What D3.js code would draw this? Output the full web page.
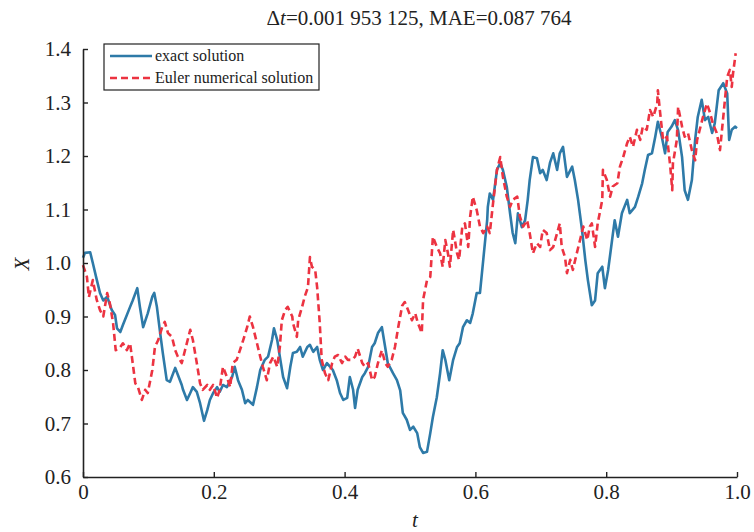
<!DOCTYPE html>
<html>
<head>
<meta charset="utf-8">
<script src="https://cdn.jsdelivr.net/npm/d3@7"></script>
<style>
body { margin: 0; background: #fff; }
text { font-family: "Liberation Serif", "Times New Roman", serif; }
</style>
</head>
<body>
<svg class="chart" width="754" height="532"></svg>
<script>
// exact solution
var exactT = [0, 0.003, 0.011, 0.015, 0.020, 0.026, 0.031, 0.037, 0.044, 0.049, 0.052, 0.057, 0.061, 0.072, 0.076, 0.083, 0.087, 0.092, 0.099, 0.106, 0.109, 0.113, 0.118, 0.122, 0.128, 0.133, 0.141, 0.145, 0.151, 0.153, 0.159, 0.164, 0.168, 0.174, 0.179, 0.185, 0.190, 0.194, 0.199, 0.205, 0.209, 0.214, 0.220, 0.228, 0.232, 0.237, 0.243, 0.248, 0.252, 0.260, 0.266, 0.271, 0.278, 0.283, 0.289, 0.292, 0.297, 0.301, 0.306, 0.312, 0.317, 0.321, 0.327, 0.332, 0.336, 0.343, 0.347, 0.352, 0.358, 0.362, 0.367, 0.373, 0.378, 0.382, 0.388, 0.393, 0.398, 0.404, 0.408, 0.413, 0.416, 0.420, 0.427, 0.431, 0.436, 0.442, 0.446, 0.451, 0.457, 0.462, 0.466, 0.474, 0.480, 0.485, 0.489, 0.495, 0.500, 0.505, 0.511, 0.515, 0.520, 0.526, 0.531, 0.535, 0.541, 0.546, 0.550, 0.554, 0.560, 0.566, 0.572, 0.576, 0.581, 0.587, 0.592, 0.596, 0.602, 0.607, 0.612, 0.618, 0.619, 0.622, 0.627, 0.633, 0.638, 0.642, 0.648, 0.653, 0.657, 0.661, 0.665, 0.671, 0.676, 0.680, 0.683, 0.688, 0.694, 0.699, 0.703, 0.709, 0.714, 0.719, 0.725, 0.729, 0.734, 0.740, 0.748, 0.752, 0.757, 0.763, 0.768, 0.772, 0.778, 0.783, 0.787, 0.794, 0.798, 0.803, 0.809, 0.813, 0.818, 0.824, 0.832, 0.836, 0.844, 0.849, 0.855, 0.859, 0.864, 0.870, 0.875, 0.879, 0.885, 0.890, 0.894, 0.900, 0.905, 0.910, 0.916, 0.920, 0.925, 0.931, 0.936, 0.940, 0.946, 0.951, 0.956, 0.962, 0.966, 0.972, 0.979, 0.985, 0.988, 0.992, 0.997, 1.0];
var exactX = [1.010, 1.019, 1.020, 1.000, 0.974, 0.944, 0.930, 0.937, 0.912, 0.903, 0.878, 0.871, 0.884, 0.918, 0.930, 0.953, 0.918, 0.880, 0.906, 0.937, 0.944, 0.918, 0.869, 0.832, 0.781, 0.778, 0.804, 0.791, 0.772, 0.763, 0.744, 0.757, 0.768, 0.759, 0.738, 0.705, 0.725, 0.744, 0.757, 0.768, 0.759, 0.772, 0.768, 0.787, 0.806, 0.781, 0.763, 0.738, 0.744, 0.735, 0.768, 0.800, 0.819, 0.825, 0.856, 0.878, 0.856, 0.825, 0.787, 0.766, 0.806, 0.832, 0.834, 0.843, 0.825, 0.843, 0.847, 0.834, 0.843, 0.819, 0.800, 0.813, 0.806, 0.800, 0.781, 0.757, 0.744, 0.748, 0.787, 0.763, 0.729, 0.763, 0.787, 0.794, 0.806, 0.843, 0.850, 0.869, 0.880, 0.843, 0.813, 0.794, 0.781, 0.762, 0.720, 0.707, 0.688, 0.694, 0.682, 0.656, 0.645, 0.647, 0.682, 0.712, 0.749, 0.794, 0.837, 0.819, 0.781, 0.819, 0.843, 0.850, 0.880, 0.893, 0.888, 0.906, 0.944, 0.944, 1.006, 1.080, 1.105, 1.130, 1.118, 1.174, 1.187, 1.174, 1.142, 1.093, 1.056, 1.037, 1.093, 1.067, 1.080, 1.118, 1.155, 1.198, 1.196, 1.168, 1.174, 1.155, 1.187, 1.205, 1.174, 1.205, 1.217, 1.161, 1.180, 1.155, 1.118, 1.062, 1.006, 0.968, 0.921, 0.930, 0.981, 0.993, 0.953, 0.987, 1.043, 1.080, 1.049, 1.093, 1.118, 1.093, 1.105, 1.124, 1.149, 1.174, 1.202, 1.205, 1.236, 1.264, 1.236, 1.205, 1.245, 1.255, 1.267, 1.248, 1.198, 1.136, 1.118, 1.155, 1.230, 1.273, 1.305, 1.267, 1.273, 1.243, 1.261, 1.323, 1.336, 1.317, 1.230, 1.249, 1.255, 1.252];

// Euler numerical solution
var eulerT = [0, 0.006, 0.009, 0.015, 0.021, 0.026, 0.031, 0.037, 0.041, 0.046, 0.050, 0.057, 0.061, 0.067, 0.072, 0.076, 0.080, 0.084, 0.090, 0.095, 0.099, 0.106, 0.110, 0.115, 0.121, 0.125, 0.130, 0.136, 0.141, 0.145, 0.151, 0.156, 0.164, 0.168, 0.174, 0.179, 0.183, 0.190, 0.194, 0.199, 0.205, 0.209, 0.214, 0.220, 0.225, 0.229, 0.235, 0.240, 0.245, 0.251, 0.255, 0.260, 0.266, 0.271, 0.275, 0.281, 0.286, 0.291, 0.297, 0.301, 0.304, 0.309, 0.313, 0.320, 0.321, 0.327, 0.329, 0.335, 0.339, 0.344, 0.347, 0.350, 0.355, 0.358, 0.362, 0.365, 0.370, 0.375, 0.381, 0.385, 0.390, 0.396, 0.401, 0.405, 0.411, 0.416, 0.420, 0.427, 0.431, 0.436, 0.442, 0.446, 0.451, 0.457, 0.462, 0.466, 0.472, 0.477, 0.482, 0.488, 0.492, 0.497, 0.503, 0.508, 0.512, 0.518, 0.520, 0.526, 0.531, 0.535, 0.541, 0.546, 0.550, 0.554, 0.558, 0.561, 0.566, 0.572, 0.575, 0.580, 0.584, 0.589, 0.592, 0.596, 0.602, 0.607, 0.612, 0.618, 0.622, 0.627, 0.633, 0.638, 0.642, 0.648, 0.653, 0.657, 0.664, 0.668, 0.673, 0.679, 0.683, 0.688, 0.694, 0.699, 0.703, 0.709, 0.714, 0.719, 0.725, 0.729, 0.732, 0.737, 0.740, 0.745, 0.749, 0.755, 0.760, 0.765, 0.771, 0.775, 0.778, 0.783, 0.787, 0.794, 0.795, 0.801, 0.806, 0.810, 0.817, 0.821, 0.826, 0.832, 0.836, 0.841, 0.847, 0.852, 0.856, 0.862, 0.867, 0.872, 0.878, 0.879, 0.882, 0.887, 0.893, 0.898, 0.901, 0.902, 0.908, 0.910, 0.916, 0.920, 0.925, 0.931, 0.936, 0.939, 0.943, 0.948, 0.954, 0.959, 0.963, 0.969, 0.974, 0.979, 0.985, 0.989, 0.992, 0.994, 0.998];
var eulerX = [0.996, 0.974, 0.936, 0.968, 0.931, 0.912, 0.900, 0.944, 0.925, 0.888, 0.837, 0.843, 0.850, 0.837, 0.850, 0.813, 0.775, 0.768, 0.744, 0.763, 0.757, 0.800, 0.843, 0.856, 0.880, 0.890, 0.869, 0.862, 0.837, 0.825, 0.813, 0.837, 0.875, 0.856, 0.813, 0.775, 0.763, 0.772, 0.763, 0.772, 0.748, 0.763, 0.806, 0.787, 0.768, 0.813, 0.819, 0.837, 0.856, 0.880, 0.900, 0.880, 0.850, 0.825, 0.806, 0.781, 0.813, 0.825, 0.806, 0.843, 0.893, 0.912, 0.918, 0.900, 0.888, 0.862, 0.893, 0.918, 0.937, 0.955, 1.011, 0.993, 0.987, 0.955, 0.888, 0.819, 0.794, 0.781, 0.813, 0.825, 0.828, 0.813, 0.825, 0.819, 0.819, 0.825, 0.840, 0.813, 0.806, 0.813, 0.781, 0.787, 0.813, 0.837, 0.813, 0.806, 0.819, 0.843, 0.880, 0.920, 0.927, 0.912, 0.893, 0.906, 0.888, 0.869, 0.931, 0.968, 0.974, 1.049, 1.030, 1.018, 0.993, 1.043, 1.018, 0.993, 1.062, 1.018, 1.006, 1.068, 1.074, 1.030, 1.087, 1.124, 1.099, 1.068, 1.056, 1.068, 1.056, 1.112, 1.174, 1.198, 1.161, 1.124, 1.105, 1.118, 1.124, 1.087, 1.068, 1.080, 1.056, 1.018, 1.037, 1.030, 1.062, 1.056, 1.024, 1.030, 1.056, 1.074, 1.030, 1.011, 0.981, 1.006, 0.987, 1.018, 1.043, 1.068, 1.043, 1.068, 1.074, 1.030, 1.074, 1.118, 1.174, 1.155, 1.124, 1.143, 1.149, 1.180, 1.198, 1.224, 1.236, 1.217, 1.249, 1.230, 1.255, 1.249, 1.286, 1.273, 1.298, 1.323, 1.286, 1.230, 1.236, 1.180, 1.136, 1.186, 1.230, 1.292, 1.255, 1.236, 1.243, 1.211, 1.192, 1.230, 1.249, 1.273, 1.298, 1.280, 1.261, 1.243, 1.211, 1.273, 1.348, 1.361, 1.329, 1.355, 1.392];

var xTicks = [0, 0.2, 0.4, 0.6, 0.8, 1.0];
var xTickLabels = ["0", "0.2", "0.4", "0.6", "0.8", "1.0"];
var yTicks = [0.6, 0.7, 0.8, 0.9, 1.0, 1.1, 1.2, 1.3, 1.4];
var seriesNames = ["exact solution", "Euler numerical solution"];
var seriesColors = ["#2e7aa8", "#ec3341"];

var plotLeft = 83, plotRight = 737, plotTop = 49, plotBottom = 477;

var chart = d3.select(".chart");

var x = d3.scaleLinear().domain([0, 1]).range([plotLeft, plotRight]);
var y = d3.scaleLinear().domain([0.6, 1.4]).range([plotBottom, plotTop]);

// title
chart.append("text")
  .attr("x", 419).attr("y", 25)
  .attr("text-anchor", "middle")
  .style("font-size", "21px")
  .style("fill", "#222")
  .html('\u0394<tspan font-style="italic">t</tspan>=0.001 953 125, MAE=0.087 764');

// lines
var exactLine = d3.line().x(function(d, i) { return x(exactT[i]); }).y(function(d) { return y(d); });
var eulerLine = d3.line().x(function(d, i) { return x(eulerT[i]); }).y(function(d) { return y(d); });

chart.append("path")
  .attr("d", exactLine(exactX))
  .style("fill", "none")
  .style("stroke", seriesColors[0])
  .style("stroke-width", 2.6)
  .style("stroke-linejoin", "round");

chart.append("path")
  .attr("d", eulerLine(eulerX))
  .style("fill", "none")
  .style("stroke", seriesColors[1])
  .style("stroke-width", 2.6)
  .style("stroke-dasharray", "7,4")
  .style("stroke-linejoin", "round");

// axes
var xAxis = d3.axisBottom(x).tickValues(xTicks).tickSizeInner(-5).tickSizeOuter(0).tickPadding(7)
  .tickFormat(function(d, i) { return xTickLabels[i]; });
var yAxis = d3.axisLeft(y).tickValues(yTicks).tickSizeInner(-5).tickSizeOuter(0).tickPadding(12)
  .tickFormat(d3.format(".1f"));

var gx = chart.append("g").attr("transform", "translate(0," + plotBottom + ")").call(xAxis);
var gy = chart.append("g").attr("transform", "translate(" + plotLeft + ",0)").call(yAxis);

[gx, gy].forEach(function(g) {
  g.select(".domain").style("stroke", "#222").style("stroke-width", 1.6);
  g.selectAll(".tick line").style("stroke", "#222").style("stroke-width", 1.4);
  g.selectAll(".tick text")
    .style("font-family", '"Liberation Serif", "Times New Roman", serif')
    .style("font-size", "21px")
    .style("fill", "#222");
});

// axis labels
chart.append("text")
  .attr("x", 415).attr("y", 527)
  .attr("text-anchor", "middle")
  .style("font-size", "21px").style("font-style", "italic")
  .style("fill", "#222")
  .text("t");

chart.append("text")
  .attr("transform", "translate(29,264) rotate(-90)")
  .attr("text-anchor", "middle")
  .style("font-size", "21px").style("font-style", "italic")
  .style("fill", "#222")
  .text("X");

// legend
var legend = chart.append("g");
legend.append("rect")
  .attr("x", 104).attr("y", 44).attr("width", 215).attr("height", 46)
  .style("fill", "#fff").style("stroke", "#222").style("stroke-width", 1.2);

seriesNames.forEach(function(name, i) {
  var ly = 56 + i * 22;
  legend.append("line")
    .attr("x1", 110).attr("x2", 152).attr("y1", ly).attr("y2", ly)
    .style("stroke", seriesColors[i])
    .style("stroke-width", 2.6)
    .style("stroke-dasharray", i == 1 ? "7,4" : null);
  legend.append("text")
    .attr("x", 155).attr("y", ly + 5)
    .style("font-size", "16px")
    .style("fill", "#222")
    .text(name);
});
</script>
</body>
</html>
